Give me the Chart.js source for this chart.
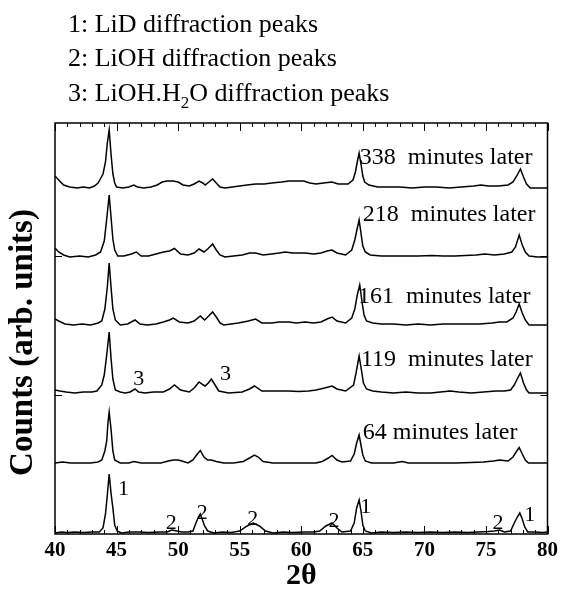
<!DOCTYPE html>
<html>
<head>
<meta charset="utf-8">
<title>XRD patterns</title>
<script src="https://cdn.jsdelivr.net/npm/chart.js@4.4.0/dist/chart.umd.min.js"></script>
<style>
  body { margin: 0; background: #fff; }
</style>
</head>
<body>
<canvas id="xrd" width="562" height="597"></canvas>
<script>
// 2-theta positions and counts above each pattern's own baseline
const theta338 = [40.0,40.3,40.7,41.2,41.8,42.3,42.8,43.2,43.5,43.9,44.1,44.25,44.4,44.55,44.7,44.85,45.0,45.5,46.0,46.4,46.7,47.2,47.8,48.3,48.7,49.1,49.6,50.0,50.4,50.9,51.3,51.7,52.0,52.2,52.5,52.8,53.1,53.4,53.8,54.4,55.0,55.6,56.3,57.0,57.6,58.4,59.0,59.5,60.2,60.7,61.2,61.8,62.5,63.0,63.8,64.2,64.4,64.55,64.7,64.85,65.0,65.15,65.5,66.2,67.0,68.0,69.0,70.0,71.0,72.0,73.0,74.0,74.6,75.2,76.0,76.8,77.2,77.5,77.8,78.05,78.3,78.6,79.3,80];
const counts338 = [12,8,3,1,0,1,0,2,5,14,26,45,58,34,14,5,1,0,1,3,1,0,1,3,6,7,7,6,3,2,4,7,5,3,6,9,5,1,0,1,2,3,4,4,5,6,7,7,7,5,4,5,6,4,4,8,16,26,35,24,12,6,3,1,1,1,0,1,1,0,1,2,3,2,2,3,6,12,19,11,4,0,0,0];

const theta218 = [40.0,40.3,40.7,41.2,42.0,42.7,43.3,43.7,44.0,44.2,44.4,44.55,44.7,44.85,45.1,45.6,46.2,46.6,47.0,47.6,48.2,48.8,49.3,49.7,50.2,50.8,51.3,51.7,52.1,52.4,52.8,53.1,53.4,53.8,54.5,55.2,55.8,56.3,56.9,57.6,58.2,58.7,59.3,60.3,61.0,61.6,62.1,62.5,62.9,63.6,64.1,64.35,64.5,64.7,64.85,65.0,65.2,65.6,66.5,67.5,68.5,69.5,70.6,71.5,72.5,73.3,74.2,74.9,75.7,76.5,77.1,77.4,77.7,77.95,78.2,78.5,79.2,80];
const counts218 = [9,5,2,0,1,0,2,5,16,38,62,40,18,7,1,1,3,5,1,1,3,5,6,8.5,3,2,4,8,5,8,13,7,2,0,1,2,4,4,2,3,4,5,4,4,3,4,6,7,4,2,7,17,26,37,24,11,5,2,1,1,1,1,1.5,1,1,1.5,2,3,2,3,5,10,22,12,5,1,0,0];

const theta161 = [40.0,40.3,40.8,41.5,42.2,42.9,43.5,43.8,44.05,44.25,44.4,44.55,44.7,44.9,45.3,45.9,46.5,46.9,47.5,48.2,48.8,49.3,49.6,50.1,50.8,51.3,51.8,52.15,52.4,52.8,53.1,53.4,53.7,54.3,54.9,55.7,56.3,56.8,57.6,58.2,59.0,59.6,60.3,61.0,61.6,62.1,62.5,62.9,63.6,64.1,64.35,64.55,64.75,64.95,65.1,65.3,65.8,66.5,67.5,68.5,69.5,70.5,71.5,72.5,73.5,74.5,75.5,76.1,76.7,77.2,77.45,77.7,77.95,78.2,78.5,79.2,80];
const counts161 = [6,4,1,0,1,0,2,4,16,38,62,38,16,5,0,1,5,1,0,1,3,5,7,3,2,4,9,5,8,13,8,2,0,1,2,4,6,2,2,3,3,2,3,2,3,6,8,4,2,7,16,30,40,22,10,4,2,1,1,0,1,0,1,1,1,1,2,3,3,7,13,21,12,5,0,0,0];

const theta119 = [40.0,40.4,40.9,41.6,42.3,43.0,43.4,43.8,44.0,44.2,44.4,44.55,44.7,44.9,45.3,45.7,46.1,46.5,46.8,47.3,48.0,48.8,49.3,49.7,50.2,50.9,51.3,51.7,52.05,52.2,52.45,52.7,52.95,53.3,54.1,55.2,55.8,56.2,56.8,57.5,58.3,59.0,59.8,60.6,61.2,61.9,62.5,62.9,63.6,64.25,64.45,64.7,64.9,65.05,65.3,65.8,66.5,67.5,68.5,69.5,70.5,71.3,72.1,72.8,73.8,74.8,75.8,76.5,77.0,77.3,77.5,77.8,78.05,78.3,78.5,79.3,80];
const counts119 = [3,2,1,0,1,1,2,8,18,38,61,35,14,3,1,0,1,4,1,0,1,1,4,8,3,1,5,11,8,7,10,14,9,2,0,1,4,7,2,2,2,2,1.5,2,3,5,7,4,2,8,20,37,22,10,4,2,1,0,1,0,0,1,2,1,0,1,2,2,3,8,13,20,10,3,0,0,0];

const theta64 = [40.0,40.6,41.3,42.0,42.9,43.5,43.8,44.05,44.2,44.3,44.4,44.55,44.7,44.85,45.3,46.0,46.4,47.0,47.8,48.6,49.2,49.6,50.0,50.3,50.8,51.2,51.5,51.8,52.1,52.4,52.7,53.1,53.7,54.5,55.3,55.8,56.2,56.5,56.9,57.7,58.5,59.3,60.4,61.2,61.7,62.2,62.5,62.9,63.3,64.0,64.3,64.5,64.7,64.85,65.0,65.2,65.7,66.5,67.5,68.2,68.7,70.0,71.1,72.5,73.8,74.8,75.6,76.1,76.8,77.2,77.45,77.7,77.95,78.2,78.45,79.2,80];
const counts64 = [0,1,0,0,0,1,3,12,22,40,51,34,12,3,0,0,1.5,0,0,0,2,3,3,2,0,3,8,12.5,6,3,3,1.5,0,0,1.5,5,8,6,1.5,0,0,0,0,0,1.5,5,7.5,3,1,2,9,20,28,18,8,2,0,0,0,1.5,0,0,0,0,0.5,1,2,3,2,6,11,15.5,9,3,0,0,0];

const theta0 = [40.0,40.5,41.0,41.6,42.3,43.0,43.6,43.9,44.1,44.25,44.4,44.55,44.7,44.85,45.05,45.4,46.0,46.8,47.6,48.5,49.1,49.5,49.9,50.3,50.8,51.2,51.45,51.65,51.8,51.95,52.15,52.4,52.9,53.6,54.3,55.0,55.6,56.1,56.6,57.1,57.7,58.5,59.3,60.2,61.0,61.5,62.0,62.5,62.9,63.3,64.0,64.3,64.5,64.7,64.85,65.0,65.2,65.7,66.5,67.5,68.5,69.5,70.5,71.5,72.5,73.5,74.4,75.2,75.7,76.1,76.5,77.0,77.3,77.55,77.75,77.95,78.15,78.4,79.0,79.6,80];
const counts0 = [0,1,0.5,1,0.5,1,1,5,19,38,59,40,25,8,2,0,1,1,0.5,1,1,3,2,1,1,2,10,16,19,14,7,2,0,1,0.5,2,7,10,7,2,0,1,0.5,1,1,2,7,10,5,1,2,10,25,33,22,8,2,0,1,0.5,1,0.5,1,0.5,1,0.5,1,1.5,2,3,1,2,10,16,20,14,6,1,1,0.5,1];

// vertical stacking offset of each pattern
const offsets = [346, 277, 209, 141, 71, 1];

const xTicks = [40, 45, 50, 55, 60, 65, 70, 75, 80];
const yTicks = [139, 278];

const timeLabels = ['338  minutes later', '218  minutes later', '161  minutes later', '119  minutes later', '64 minutes later'];
const timeLabelTheta = [64.76, 65.0, 64.6, 64.85, 65.0];
const timeLabelY = [376, 319, 237, 174, 101];

const peakMarks = ['1', '1', '1', '2', '2', '2', '2', '2', '3', '3'];
const peakMarkTheta = [45.56, 65.24, 78.55, 49.44, 51.96, 56.07, 62.66, 75.97, 46.8, 53.85];
const peakMarkY = [45, 27, 19, 10.7, 20.7, 14.7, 12.3, 10.7, 155, 160];

const serif = "'Liberation Serif', 'Times New Roman', serif";

function toPoints(thetas, counts, offset) {
  return thetas.map((t, i) => ({x: t, y: counts[i] + offset}));
}

const series = [
  [theta338, counts338],
  [theta218, counts218],
  [theta161, counts161],
  [theta119, counts119],
  [theta64, counts64],
  [theta0, counts0]
];

const datasets = series.map((s, i) => ({
  data: toPoints(s[0], s[1], offsets[i]),
  borderColor: '#000',
  borderWidth: 1.5,
  pointRadius: 0,
  tension: 0,
  fill: false
}));

const framePlugin = {
  id: 'frame',
  afterDraw(chart) {
    const ctx = chart.ctx;
    const a = chart.chartArea;
    const x = chart.scales.x;
    const y = chart.scales.y;
    ctx.save();
    ctx.strokeStyle = '#000';
    ctx.lineWidth = 1.5;
    ctx.strokeRect(a.left, a.top, a.right - a.left, a.bottom - a.top);

    // inward ticks, majors every 5 and minors every 1
    ctx.lineWidth = 1;
    ctx.beginPath();
    for (let v = x.min; v <= x.max; v++) {
      const px = Math.round(x.getPixelForValue(v)) + 0.5;
      const len = v % 5 === 0 ? 8 : 4;
      ctx.moveTo(px, a.bottom); ctx.lineTo(px, a.bottom - len);
      ctx.moveTo(px, a.top); ctx.lineTo(px, a.top + len);
    }
    yTicks.forEach(v => {
      const py = Math.round(y.getPixelForValue(v)) + 0.5;
      ctx.moveTo(a.left, py); ctx.lineTo(a.left + 7, py);
      ctx.moveTo(a.right, py); ctx.lineTo(a.right - 7, py);
    });
    ctx.stroke();

    ctx.fillStyle = '#000';
    ctx.textBaseline = 'middle';
    ctx.textAlign = 'left';
    ctx.font = '24px ' + serif;
    timeLabels.forEach((t, i) => {
      ctx.fillText(t, x.getPixelForValue(timeLabelTheta[i]), y.getPixelForValue(timeLabelY[i]));
    });
    ctx.textAlign = 'center';
    ctx.font = '22px ' + serif;
    peakMarks.forEach((t, i) => {
      ctx.fillText(t, x.getPixelForValue(peakMarkTheta[i]), y.getPixelForValue(peakMarkY[i]));
    });

    // y title sits a little below the middle of the axis
    ctx.save();
    ctx.translate(23, (a.top + a.bottom) / 2 + 14);
    ctx.rotate(-Math.PI / 2);
    ctx.font = 'bold 33px ' + serif;
    ctx.fillText('Counts (arb. units)', 0, 0);
    ctx.restore();

    // key above the plot
    ctx.textAlign = 'left';
    ctx.textBaseline = 'alphabetic';
    ctx.font = '26px ' + serif;
    const kx = 68;
    ctx.fillText('1: LiD diffraction peaks', kx, 32);
    ctx.fillText('2: LiOH diffraction peaks', kx, 66);
    let s = '3: LiOH.H';
    ctx.fillText(s, kx, 101);
    let w = ctx.measureText(s).width;
    ctx.font = '17px ' + serif;
    ctx.fillText('2', kx + w, 108);
    w += ctx.measureText('2').width;
    ctx.font = '26px ' + serif;
    ctx.fillText('O diffraction peaks', kx + w, 101);
    ctx.restore();
  }
};

new Chart(document.getElementById('xrd'), {
  type: 'line',
  data: {datasets: datasets},
  options: {
    responsive: false,
    animation: false,
    events: [],
    layout: {padding: {left: 0, right: 11, top: 123, bottom: 0}},
    plugins: {legend: {display: false}, tooltip: {enabled: false}},
    scales: {
      x: {
        type: 'linear',
        min: 40,
        max: 80,
        afterBuildTicks: scale => { scale.ticks = xTicks.map(v => ({value: v})); },
        afterFit: scale => { scale.height = 63; },
        grid: {display: false, drawTicks: false},
        border: {display: false},
        ticks: {
          color: '#000',
          padding: 4,
          font: {family: serif, size: 21, weight: 'bold'}
        },
        title: {
          display: true,
          text: '2θ',
          color: '#000',
          padding: {top: 0, bottom: 3},
          font: {family: serif, size: 30, weight: 'bold'}
        }
      },
      y: {
        min: 0,
        max: 411,
        afterFit: scale => { scale.width = 55; },
        grid: {display: false, drawTicks: false},
        border: {display: false},
        ticks: {display: false}
      }
    }
  },
  plugins: [framePlugin]
});
</script>
</body>
</html>
